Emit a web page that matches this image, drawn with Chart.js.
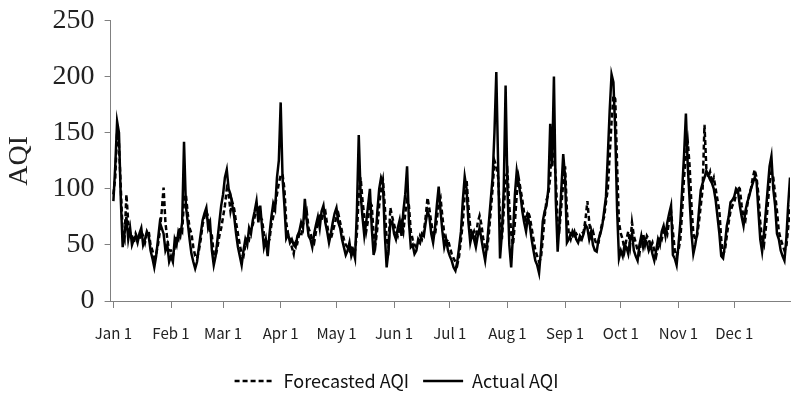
<!DOCTYPE html>
<html>
<head>
<meta charset="utf-8">
<script src="https://cdn.jsdelivr.net/npm/chart.js@4.4.1/dist/chart.umd.min.js"></script>
<style>
  html, body { margin: 0; padding: 0; background: #fff; }
  #wrap { width: 791px; height: 402px; }
</style>
</head>
<body>
<div id="wrap"><canvas id="aqiChart"></canvas></div>
<script>
/* Daily AQI, actual vs forecast — one value per day of the year */

const monthLabels = ["Jan 1", "Feb 1", "Mar 1", "Apr 1", "May 1", "Jun 1", "Jul 1", "Aug 1", "Sep 1", "Oct 1", "Nov 1", "Dec 1"];
const monthStarts = [0, 31, 59, 90, 120, 151, 181, 212, 243, 273, 304, 334];
const yTicks = [0, 50, 100, 150, 200, 250];

const actualAQI = [
  89,120,160,150,90,48,60,75,55,65,50,55,58,52,60,65,50,55,62,58,45,38,30,40,55,70,65,60,45,50,35,
  40,35,55,50,62,58,70,142,85,70,55,42,35,29,35,48,60,72,78,83,65,70,45,32,40,55,70,85,
  95,110,117,100,95,85,75,60,48,40,32,45,55,50,65,60,72,80,89,70,85,65,48,55,40,60,75,87,82,110,125,
  177,110,85,56,60,52,55,50,48,58,62,70,65,91,72,58,55,48,60,68,75,65,80,85,70,62,52,60,70,78,
  83,70,65,55,48,41,45,52,40,45,38,80,148,95,75,58,70,85,100,65,41,55,80,100,110,105,60,30,45,70,71,
  60,55,65,72,58,80,95,120,70,48,50,42,45,55,52,60,58,70,80,75,60,52,65,85,102,80,62,48,55,45,
  40,36,30,27,35,48,62,90,111,100,70,52,60,55,48,58,65,55,45,36,50,70,90,110,150,204,120,38,60,100,192,
  100,50,30,60,95,116,105,95,80,70,62,75,68,55,45,36,32,25,45,71,80,85,100,158,120,200,90,44,70,100,131,
  110,52,55,60,58,62,55,52,58,55,60,68,65,55,62,50,45,44,55,60,67,80,93,130,170,202,195,150,80,38,
  45,40,50,48,42,55,60,45,40,36,50,58,48,55,52,45,50,42,36,45,55,50,62,67,58,70,78,85,41,38,32,
  50,70,100,130,167,120,90,60,42,50,60,80,99,105,110,116,112,108,105,100,90,75,60,40,38,50,67,75,88,90,
  93,100,98,85,75,67,80,88,93,100,105,110,107,80,55,44,60,80,100,120,129,100,85,60,55,45,40,36,55,85,110
];

const forecastAQI = [
  95,110,150,140,100,60,55,95,70,60,58,52,60,56,55,62,58,52,60,62,50,45,38,42,50,62,80,101,70,55,45,
  45,40,48,58,55,65,62,90,95,78,65,60,48,40,38,45,55,68,75,80,75,62,58,42,40,48,58,65,
  75,85,100,95,80,88,82,70,60,50,42,40,50,58,55,65,68,75,80,85,75,72,60,50,52,55,68,75,85,95,105,
  112,113,100,70,58,55,48,42,55,52,60,58,68,75,80,65,60,55,52,62,70,75,72,78,80,68,58,55,62,68,
  75,78,70,62,55,50,48,45,50,42,45,60,95,110,90,75,62,72,88,85,60,50,65,85,100,108,85,55,48,83,75,
  68,62,58,65,70,62,78,90,85,62,55,50,48,50,58,55,62,75,92,82,70,60,58,72,88,92,75,60,52,55,
  48,42,38,35,32,40,55,70,95,108,85,65,58,62,55,70,76,68,55,48,45,60,80,100,125,120,110,75,55,80,110,
  115,85,60,50,70,95,110,100,90,78,72,80,75,65,55,45,40,35,38,55,75,90,95,110,150,130,110,70,65,85,105,
  120,80,60,55,62,58,60,57,55,60,62,73,89,70,58,62,55,50,52,62,70,75,88,100,130,160,183,180,120,70,
  60,55,45,55,62,50,70,58,52,45,42,55,60,50,58,55,48,52,45,40,48,58,55,62,65,60,72,80,62,45,40,
  45,55,80,110,130,142,120,85,60,55,58,70,85,100,157,118,110,115,105,110,100,90,80,55,42,45,58,70,80,85,
  88,95,102,100,85,75,72,85,95,100,110,117,110,95,70,55,50,65,85,105,115,110,95,80,62,55,50,45,48,65,85
];

const SERIF = "'Liberation Serif', 'Times New Roman', serif";
const SANS = "'Noto Sans CJK KR', 'Noto Sans', sans-serif";
const AXIS_GREY = "#808080";
const LINE_W = 2.5;

function toPoints(values) {
  return values.map((v, i) => ({ x: i, y: v }));
}

// legend samples: keep each dataset's dash pattern on the line swatch
function legendLabels(chart) {
  const items = Chart.defaults.plugins.legend.labels.generateLabels(chart);
  items.forEach(item => {
    const ds = chart.data.datasets[item.datasetIndex];
    item.lineDash = ds.borderDash || [];
    item.lineWidth = LINE_W;
    item.strokeStyle = "#000";
  });
  return items;
}

const ctx = document.getElementById("aqiChart");

new Chart(ctx, {
  type: "line",
  data: {
    datasets: [
      {
        label: "Forecasted AQI",
        data: toPoints(forecastAQI),
        borderColor: "#000",
        borderWidth: LINE_W,
        borderDash: [5, 3],
        pointRadius: 0,
        tension: 0,
        fill: false
      },
      {
        label: "Actual AQI",
        data: toPoints(actualAQI),
        borderColor: "#000",
        borderWidth: LINE_W,
        pointRadius: 0,
        tension: 0,
        fill: false
      }
    ]
  },
  options: {
    responsive: true,
    maintainAspectRatio: false,
    animation: false,
    layout: { padding: { left: 3, right: 1, top: 0, bottom: 2 } },
    plugins: {
      tooltip: { enabled: false },
      legend: {
        position: "bottom",
        labels: {
          usePointStyle: true,
          pointStyle: "line",
          pointStyleWidth: 40,
          padding: 14,
          color: "#111",
          font: { family: SANS, size: 18 },
          generateLabels: legendLabels
        }
      }
    },
    scales: {
      x: {
        type: "linear",
        min: -1.5,
        max: 364,
        afterBuildTicks: scale => { scale.ticks = monthStarts.map(v => ({ value: v })); },
        ticks: {
          autoSkip: false,
          maxRotation: 0,
          padding: 16,
          color: "#222",
          font: { family: SANS, size: 15 },
          callback: v => monthLabels[monthStarts.indexOf(v)]
        },
        grid: { drawOnChartArea: false, drawTicks: true, tickLength: 7, color: AXIS_GREY },
        border: { color: AXIS_GREY, width: 1 }
      },
      y: {
        min: 0,
        max: 250,
        afterBuildTicks: scale => { scale.ticks = yTicks.map(v => ({ value: v })); },
        ticks: {
          padding: 10,
          color: "#222",
          font: { family: SERIF, size: 28, lineHeight: 0.75 }
        },
        grid: { drawOnChartArea: false, drawTicks: true, tickLength: 6, color: AXIS_GREY },
        border: { color: AXIS_GREY, width: 1 },
        title: {
          display: true,
          text: "AQI",
          color: "#222",
          font: { family: SERIF, size: 28 },
          padding: { top: 0, bottom: 6 }
        }
      }
    }
  }
});
</script>
</body>
</html>
